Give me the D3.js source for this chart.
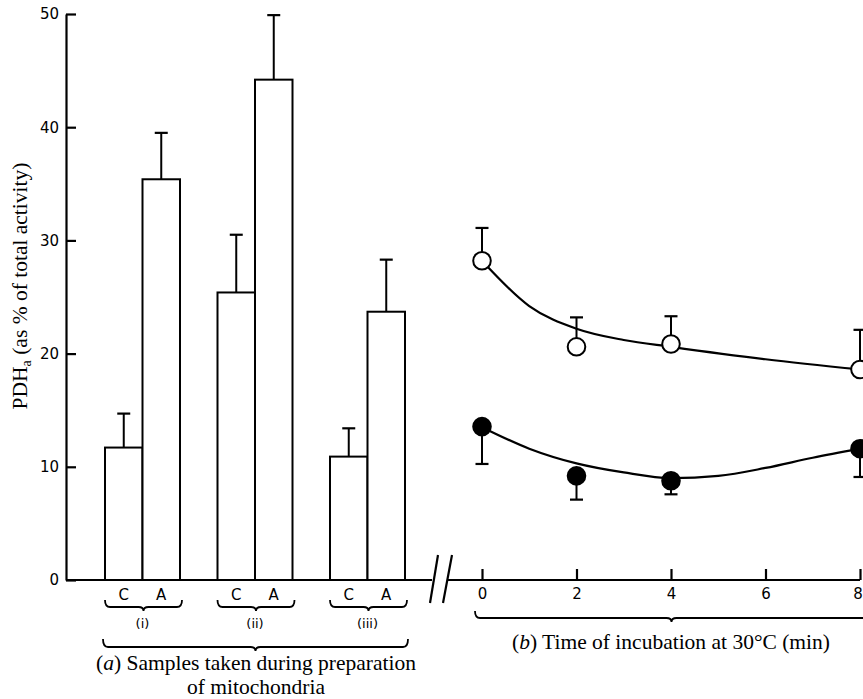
<!DOCTYPE html>
<html>
<head>
<meta charset="utf-8">
<script src="https://cdn.jsdelivr.net/npm/d3@7"></script>
<style>
  body { margin: 0; background: #fff; }
  svg { display: block; }
  .tick text { font-family: "DejaVu Sans", sans-serif; font-size: 15px; fill: #000; }
  .tick line, .domain { stroke: #000; stroke-width: 2.2; }
  .serif { font-family: "Liberation Serif", "Times New Roman", serif; font-size: 21.5px; fill: #000; }
  .sans { font-family: "DejaVu Sans", sans-serif; fill: #000; }
</style>
</head>
<body>
<svg width="863" height="699"></svg>
<script>
// panel (a): bars
var groups = ["(i)", "(ii)", "(iii)"];
var conditions = ["C", "A"];
var barMeans = [[11.7, 35.4], [25.4, 44.2], [10.9, 23.7]];
var barErrors = [[3.0, 4.1], [5.1, 5.7], [2.5, 4.6]];

// panel (b): time course
var times = [0, 2, 4, 8];
var openMeans = [28.2, 20.6, 20.85, 18.6];
var openErrors = [2.9, 2.6, 2.45, 3.5];
var filledMeans = [13.55, 9.2, 8.77, 11.6];
var filledErrors = [3.3, 2.1, 1.2, 2.5];

// hand-drawn fitted curves
var openFitT = [0, 1, 2, 3, 4, 6, 8];
var openFitV = [28.2, 24.2, 22.2, 21.2, 20.6, 19.5, 18.6];
var filledFitT = [0, 1, 2, 3, 4, 5, 6, 7, 8];
var filledFitV = [13.5, 11.6, 10.3, 9.5, 9.0, 9.2, 9.9, 10.8, 11.6];

var yTicks = [0, 10, 20, 30, 40, 50];
var timeTicks = [0, 2, 4, 6, 8];

var svg = d3.select("svg");

var y = d3.scaleLinear().domain([0, 50]).range([580, 14]);
var xGroup = d3.scaleBand().domain(groups).range([67.5, 442.5])
    .paddingInner(1 / 3).paddingOuter(1 / 3);
var xCond = d3.scaleBand().domain(conditions).range([0, xGroup.bandwidth()]);
var xTime = d3.scaleLinear().domain([0, 8]).range([482, 860]);

// y axis (ticks point inwards)
svg.append("g")
    .attr("transform", "translate(66,0)")
    .call(d3.axisLeft(y).tickValues(yTicks).tickSizeInner(-10).tickSizeOuter(0).tickPadding(7));

// baselines with break marks
svg.append("line").attr("x1", 66).attr("x2", 432).attr("y1", y(0)).attr("y2", y(0))
    .attr("stroke", "#000").attr("stroke-width", 2.2);
svg.append("line").attr("x1", 448).attr("x2", xTime(8)).attr("y1", y(0)).attr("y2", y(0))
    .attr("stroke", "#000").attr("stroke-width", 2.2);
[[438, 430], [452, 443]].forEach(function (s) {
    svg.append("line").attr("x1", s[0]).attr("y1", 555).attr("x2", s[1]).attr("y2", 603)
        .attr("stroke", "#000").attr("stroke-width", 2.2);
});

// bars
var barData = [];
groups.forEach(function (g, i) {
    conditions.forEach(function (c, j) {
        barData.push({ g: g, c: c, v: barMeans[i][j], e: barErrors[i][j] });
    });
});

var bar = svg.selectAll(".bar").data(barData).enter().append("g").attr("class", "bar");

bar.append("line")
    .attr("x1", function (d) { return xGroup(d.g) + xCond(d.c) + xCond.bandwidth() / 2; })
    .attr("x2", function (d) { return xGroup(d.g) + xCond(d.c) + xCond.bandwidth() / 2; })
    .attr("y1", function (d) { return y(d.v); })
    .attr("y2", function (d) { return y(d.v + d.e); })
    .attr("stroke", "#000").attr("stroke-width", 2);
bar.append("line")
    .attr("x1", function (d) { return xGroup(d.g) + xCond(d.c) + xCond.bandwidth() / 2 - 6.5; })
    .attr("x2", function (d) { return xGroup(d.g) + xCond(d.c) + xCond.bandwidth() / 2 + 6.5; })
    .attr("y1", function (d) { return y(d.v + d.e); })
    .attr("y2", function (d) { return y(d.v + d.e); })
    .attr("stroke", "#000").attr("stroke-width", 2.2);
bar.append("rect")
    .attr("x", function (d) { return xGroup(d.g) + xCond(d.c); })
    .attr("y", function (d) { return y(d.v); })
    .attr("width", xCond.bandwidth())
    .attr("height", function (d) { return y(0) - y(d.v); })
    .attr("fill", "#fff").attr("stroke", "#000").attr("stroke-width", 2);

// C / A labels
bar.append("text")
    .attr("class", "sans")
    .attr("font-size", 15)
    .attr("text-anchor", "middle")
    .attr("x", function (d) { return xGroup(d.g) + xCond(d.c) + xCond.bandwidth() / 2; })
    .attr("y", 600)
    .text(function (d) { return d.c; });

// curly brace
function brace(x1, x2, top, h, tip) {
    var m = (x1 + x2) / 2, r = 5;
    return "M" + x1 + "," + top +
        " Q" + x1 + "," + (top + h) + " " + (x1 + r) + "," + (top + h) +
        " L" + (m - r) + "," + (top + h) +
        " Q" + m + "," + (top + h) + " " + m + "," + (top + h + tip) +
        " Q" + m + "," + (top + h) + " " + (m + r) + "," + (top + h) +
        " L" + (x2 - r) + "," + (top + h) +
        " Q" + x2 + "," + (top + h) + " " + x2 + "," + top;
}

groups.forEach(function (g) {
    svg.append("path")
        .attr("d", brace(xGroup(g), xGroup(g) + xGroup.bandwidth() + 2, 600, 7, 4))
        .attr("fill", "none").attr("stroke", "#000").attr("stroke-width", 1.8);
    svg.append("text").attr("class", "sans").attr("font-size", 13)
        .attr("text-anchor", "middle")
        .attr("x", xGroup(g) + xGroup.bandwidth() / 2).attr("y", 628)
        .text(g);
});

svg.append("path")
    .attr("d", brace(xGroup(groups[0]) - 2, xGroup(groups[2]) + xGroup.bandwidth() + 3, 639, 8, 4))
    .attr("fill", "none").attr("stroke", "#000").attr("stroke-width", 1.8);

var capA = svg.append("text").attr("class", "serif").attr("text-anchor", "middle")
    .attr("x", 256).attr("y", 670);
capA.append("tspan").text("(");
capA.append("tspan").attr("font-style", "italic").text("a");
capA.append("tspan").text(")  Samples taken during preparation");
svg.append("text").attr("class", "serif").attr("text-anchor", "middle")
    .attr("x", 256).attr("y", 694).text("of mitochondria");

// y label
var yl = svg.append("text").attr("class", "serif").attr("text-anchor", "middle")
    .attr("font-size", 22)
    .attr("transform", "translate(27,286) rotate(-90)");
yl.append("tspan").text("PDH");
yl.append("tspan").attr("font-size", 14).attr("dy", 4).text("a");
yl.append("tspan").attr("dy", -4).text(" (as % of total activity)");

// time axis (ticks point upward)
var xAxisB = svg.append("g")
    .attr("transform", "translate(0," + y(0) + ")")
    .call(d3.axisBottom(xTime).tickValues(timeTicks).tickSizeInner(-11).tickSizeOuter(0).tickPadding(8));
xAxisB.select(".domain").remove();
xAxisB.selectAll(".tick text").filter(function (d) { return d === 8; }).attr("dx", -2.5);

svg.append("path")
    .attr("d", brace(xTime(0) - 7, xTime(8) + 8, 611, 7, 4))
    .attr("fill", "none").attr("stroke", "#000").attr("stroke-width", 1.8);

var capB = svg.append("text").attr("class", "serif").attr("text-anchor", "middle")
    .attr("font-size", 22)
    .attr("x", 671).attr("y", 649);
capB.append("tspan").text("(");
capB.append("tspan").attr("font-style", "italic").text("b");
capB.append("tspan").text(")  Time of incubation at 30\u00b0C (min)");

// fitted curves
var line = d3.line()
    .x(function (d) { return xTime(d[0]); })
    .y(function (d) { return y(d[1]); })
    .curve(d3.curveMonotoneX);

svg.append("path").datum(d3.zip(openFitT, openFitV)).attr("d", line)
    .attr("fill", "none").attr("stroke", "#000").attr("stroke-width", 2.2);
svg.append("path").datum(d3.zip(filledFitT, filledFitV)).attr("d", line)
    .attr("fill", "none").attr("stroke", "#000").attr("stroke-width", 2.2);

// points with error bars
function drawPoints(means, errs, dir, fill) {
    var pts = times.map(function (t, i) { return { t: t, v: means[i], e: errs[i] }; });
    var g = svg.append("g");
    var p = g.selectAll("g").data(pts).enter().append("g");
    p.append("line")
        .attr("x1", function (d) { return xTime(d.t); })
        .attr("x2", function (d) { return xTime(d.t); })
        .attr("y1", function (d) { return y(d.v); })
        .attr("y2", function (d) { return y(d.v + dir * d.e); })
        .attr("stroke", "#000").attr("stroke-width", 2);
    p.append("line")
        .attr("x1", function (d) { return xTime(d.t) - 6.5; })
        .attr("x2", function (d) { return xTime(d.t) + 6.5; })
        .attr("y1", function (d) { return y(d.v + dir * d.e); })
        .attr("y2", function (d) { return y(d.v + dir * d.e); })
        .attr("stroke", "#000").attr("stroke-width", 2.2);
    p.append("circle")
        .attr("cx", function (d) { return xTime(d.t); })
        .attr("cy", function (d) { return y(d.v); })
        .attr("r", 8.8)
        .attr("fill", fill).attr("stroke", "#000").attr("stroke-width", 2);
}

drawPoints(openMeans, openErrors, 1, "#fff");
drawPoints(filledMeans, filledErrors, -1, "#000");
</script>
</body>
</html>
